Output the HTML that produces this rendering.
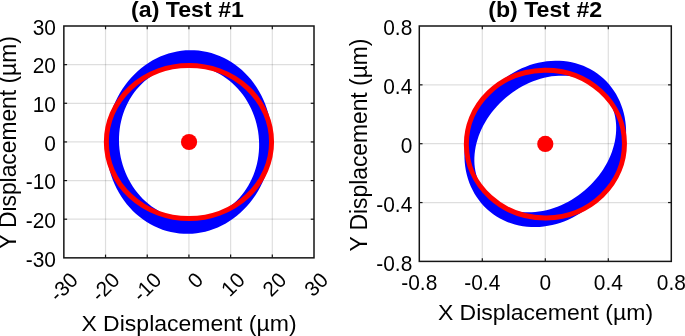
<!DOCTYPE html><html><head><meta charset="utf-8"><style>html,body{margin:0;padding:0;background:#fff}svg{display:block}text{font-family:"Liberation Sans",sans-serif;fill:#000}</style></head><body>
<svg width="685" height="336" viewBox="0 0 685 336">
<rect width="685" height="336" fill="#fff"/>
<line x1="105.54" y1="26.0" x2="105.54" y2="257.85" stroke="#000" stroke-opacity="0.13" stroke-width="1.2"/>
<line x1="147.23" y1="26.0" x2="147.23" y2="257.85" stroke="#000" stroke-opacity="0.13" stroke-width="1.2"/>
<line x1="188.93" y1="26.0" x2="188.93" y2="257.85" stroke="#000" stroke-opacity="0.13" stroke-width="1.2"/>
<line x1="230.62" y1="26.0" x2="230.62" y2="257.85" stroke="#000" stroke-opacity="0.13" stroke-width="1.2"/>
<line x1="272.31" y1="26.0" x2="272.31" y2="257.85" stroke="#000" stroke-opacity="0.13" stroke-width="1.2"/>
<line x1="63.85" y1="64.64" x2="314.0" y2="64.64" stroke="#000" stroke-opacity="0.13" stroke-width="1.2"/>
<line x1="63.85" y1="103.28" x2="314.0" y2="103.28" stroke="#000" stroke-opacity="0.13" stroke-width="1.2"/>
<line x1="63.85" y1="141.93" x2="314.0" y2="141.93" stroke="#000" stroke-opacity="0.13" stroke-width="1.2"/>
<line x1="63.85" y1="180.57" x2="314.0" y2="180.57" stroke="#000" stroke-opacity="0.13" stroke-width="1.2"/>
<line x1="63.85" y1="219.21" x2="314.0" y2="219.21" stroke="#000" stroke-opacity="0.13" stroke-width="1.2"/>
<line x1="482.30" y1="26.0" x2="482.30" y2="261.4" stroke="#000" stroke-opacity="0.13" stroke-width="1.2"/>
<line x1="545.30" y1="26.0" x2="545.30" y2="261.4" stroke="#000" stroke-opacity="0.13" stroke-width="1.2"/>
<line x1="608.30" y1="26.0" x2="608.30" y2="261.4" stroke="#000" stroke-opacity="0.13" stroke-width="1.2"/>
<line x1="419.3" y1="84.85" x2="671.3" y2="84.85" stroke="#000" stroke-opacity="0.13" stroke-width="1.2"/>
<line x1="419.3" y1="143.70" x2="671.3" y2="143.70" stroke="#000" stroke-opacity="0.13" stroke-width="1.2"/>
<line x1="419.3" y1="202.55" x2="671.3" y2="202.55" stroke="#000" stroke-opacity="0.13" stroke-width="1.2"/>
<path d="M271.30,150.67 L270.68,155.45 L269.84,160.18 L268.78,164.87 L267.50,169.49 L266.00,174.04 L264.29,178.50 L262.38,182.86 L260.27,187.11 L257.96,191.24 L255.46,195.23 L252.78,199.07 L249.92,202.76 L246.90,206.28 L243.72,209.62 L240.39,212.78 L236.91,215.75 L233.31,218.51 L229.58,221.07 L225.75,223.40 L221.81,225.52 L217.79,227.40 L213.68,229.05 L209.51,230.47 L205.28,231.64 L201.00,232.56 L196.70,233.24 L192.37,233.66 L188.03,233.84 L183.69,233.76 L179.37,233.43 L175.08,232.86 L170.83,232.03 L166.62,230.95 L162.47,229.64 L158.40,228.08 L154.42,226.28 L150.52,224.26 L146.73,222.01 L143.06,219.54 L139.52,216.85 L136.11,213.97 L132.84,210.88 L129.73,207.61 L126.78,204.15 L124.00,200.53 L121.40,196.75 L118.99,192.81 L116.76,188.74 L114.74,184.54 L112.92,180.22 L111.30,175.80 L109.90,171.28 L108.72,166.69 L107.76,162.02 L107.02,157.30 L106.50,152.54 L106.21,147.75 L106.15,142.95 L106.31,138.14 L106.70,133.35 L107.32,128.57 L108.16,123.84 L109.22,119.15 L110.50,114.53 L112.00,109.98 L113.71,105.52 L115.62,101.16 L117.73,96.91 L120.04,92.78 L122.54,88.79 L125.22,84.95 L128.08,81.26 L131.10,77.74 L134.28,74.40 L137.61,71.24 L141.09,68.27 L144.69,65.51 L148.42,62.95 L152.25,60.62 L156.19,58.50 L160.21,56.62 L164.32,54.97 L168.49,53.55 L172.72,52.38 L177.00,51.46 L181.30,50.78 L185.63,50.36 L189.97,50.18 L194.31,50.26 L198.63,50.59 L202.92,51.16 L207.17,51.99 L211.38,53.07 L215.53,54.38 L219.60,55.94 L223.58,57.74 L227.48,59.76 L231.27,62.01 L234.94,64.48 L238.48,67.17 L241.89,70.05 L245.16,73.14 L248.27,76.41 L251.22,79.87 L254.00,83.49 L256.60,87.27 L259.01,91.21 L261.24,95.28 L263.26,99.48 L265.08,103.80 L266.70,108.22 L268.10,112.74 L269.28,117.33 L270.24,122.00 L270.98,126.72 L271.50,131.48 L271.79,136.27 L271.85,141.07 L271.69,145.88Z M257.38,127.63 L256.48,123.68 L255.38,119.79 L254.11,115.96 L252.66,112.20 L251.03,108.52 L249.24,104.94 L247.28,101.46 L245.15,98.09 L242.88,94.84 L240.46,91.72 L237.90,88.75 L235.20,85.91 L232.38,83.24 L229.43,80.73 L226.38,78.38 L223.23,76.21 L219.98,74.22 L216.64,72.42 L213.23,70.81 L209.76,69.40 L206.23,68.19 L202.65,67.18 L199.03,66.37 L195.39,65.78 L191.73,65.39 L188.06,65.22 L184.39,65.26 L180.74,65.51 L177.11,65.97 L173.51,66.64 L169.96,67.51 L166.45,68.60 L163.01,69.88 L159.64,71.36 L156.35,73.04 L153.16,74.91 L150.05,76.96 L147.06,79.20 L144.18,81.60 L141.43,84.17 L138.80,86.91 L136.31,89.79 L133.97,92.82 L131.78,95.98 L129.74,99.27 L127.87,102.68 L126.17,106.20 L124.63,109.82 L123.28,113.53 L122.10,117.31 L121.11,121.17 L120.30,125.08 L119.69,129.04 L119.26,133.04 L119.02,137.06 L118.98,141.10 L119.13,145.14 L119.47,149.17 L120.00,153.19 L120.72,157.17 L121.62,161.12 L122.72,165.01 L123.99,168.84 L125.44,172.60 L127.07,176.28 L128.86,179.86 L130.82,183.34 L132.95,186.71 L135.22,189.96 L137.64,193.08 L140.20,196.05 L142.90,198.89 L145.72,201.56 L148.67,204.07 L151.72,206.42 L154.87,208.59 L158.12,210.58 L161.46,212.38 L164.87,213.99 L168.34,215.40 L171.87,216.61 L175.45,217.62 L179.07,218.43 L182.71,219.02 L186.37,219.41 L190.04,219.58 L193.71,219.54 L197.36,219.29 L200.99,218.83 L204.59,218.16 L208.14,217.29 L211.65,216.20 L215.09,214.92 L218.46,213.44 L221.75,211.76 L224.94,209.89 L228.05,207.84 L231.04,205.60 L233.92,203.20 L236.67,200.63 L239.30,197.89 L241.79,195.01 L244.13,191.98 L246.32,188.82 L248.36,185.53 L250.23,182.12 L251.93,178.60 L253.47,174.98 L254.82,171.27 L256.00,167.49 L256.99,163.63 L257.80,159.72 L258.41,155.76 L258.84,151.76 L259.08,147.74 L259.12,143.70 L258.97,139.66 L258.63,135.63 L258.10,131.61Z" fill="#0000ff" fill-rule="evenodd"/>
<ellipse cx="188.95" cy="142.0" rx="82.6" ry="76.5" transform="rotate(0 188.95 142.0)" fill="none" stroke="#ff0000" stroke-width="5.0"/>
<circle cx="189.05" cy="142.0" r="8.1" fill="#ff0000"/>
<path d="M604.34,191.87 L601.37,195.36 L598.25,198.71 L594.98,201.91 L591.58,204.95 L588.04,207.82 L584.40,210.52 L580.64,213.03 L576.79,215.36 L572.85,217.49 L568.83,219.41 L564.75,221.13 L560.62,222.64 L556.44,223.93 L552.24,225.01 L548.01,225.86 L543.78,226.48 L539.55,226.88 L535.34,227.06 L531.15,227.00 L527.00,226.72 L522.91,226.21 L518.87,225.47 L514.91,224.51 L511.03,223.33 L507.24,221.93 L503.56,220.32 L499.99,218.50 L496.55,216.47 L493.24,214.24 L490.07,211.82 L487.06,209.22 L484.20,206.44 L481.51,203.48 L479.00,200.36 L476.66,197.09 L474.52,193.67 L472.57,190.11 L470.82,186.43 L469.27,182.63 L467.93,178.73 L466.80,174.73 L465.89,170.64 L465.20,166.48 L464.72,162.26 L464.47,157.99 L464.44,153.68 L464.62,149.34 L465.03,144.99 L465.66,140.64 L466.51,136.29 L467.58,131.97 L468.85,127.67 L470.34,123.43 L472.03,119.23 L473.92,115.11 L476.01,111.06 L478.29,107.11 L480.75,103.25 L483.39,99.51 L486.20,95.89 L489.17,92.40 L492.29,89.05 L495.56,85.85 L498.96,82.81 L502.50,79.94 L506.14,77.24 L509.90,74.73 L513.75,72.40 L517.69,70.27 L521.71,68.35 L525.79,66.63 L529.92,65.12 L534.10,63.83 L538.30,62.75 L542.53,61.90 L546.76,61.28 L550.99,60.88 L555.20,60.70 L559.39,60.76 L563.54,61.04 L567.63,61.55 L571.67,62.29 L575.63,63.25 L579.51,64.43 L583.30,65.83 L586.98,67.44 L590.55,69.26 L593.99,71.29 L597.30,73.52 L600.47,75.94 L603.48,78.54 L606.34,81.32 L609.03,84.28 L611.54,87.40 L613.88,90.67 L616.02,94.09 L617.97,97.65 L619.72,101.33 L621.27,105.13 L622.61,109.03 L623.74,113.03 L624.65,117.12 L625.34,121.28 L625.82,125.50 L626.07,129.77 L626.10,134.08 L625.92,138.42 L625.51,142.77 L624.88,147.12 L624.03,151.47 L622.96,155.79 L621.69,160.09 L620.20,164.33 L618.51,168.53 L616.62,172.65 L614.53,176.70 L612.25,180.65 L609.79,184.51 L607.15,188.25Z M587.85,187.59 L590.76,184.77 L593.55,181.85 L596.20,178.81 L598.71,175.69 L601.08,172.47 L603.30,169.18 L605.35,165.82 L607.24,162.40 L608.96,158.93 L610.51,155.42 L611.88,151.88 L613.06,148.31 L614.06,144.73 L614.87,141.15 L615.49,137.58 L615.92,134.03 L616.15,130.50 L616.19,127.02 L616.04,123.57 L615.69,120.19 L615.14,116.86 L614.41,113.62 L613.49,110.45 L612.38,107.38 L611.08,104.41 L609.61,101.55 L607.96,98.80 L606.14,96.18 L604.15,93.69 L602.00,91.33 L599.69,89.12 L597.23,87.06 L594.64,85.16 L591.90,83.42 L589.04,81.84 L586.06,80.44 L582.97,79.21 L579.77,78.15 L576.48,77.28 L573.11,76.59 L569.65,76.08 L566.13,75.76 L562.56,75.63 L558.93,75.69 L555.27,75.93 L551.58,76.36 L547.88,76.97 L544.16,77.77 L540.45,78.75 L536.76,79.90 L533.08,81.24 L529.44,82.74 L525.85,84.42 L522.30,86.25 L518.82,88.25 L515.41,90.40 L512.09,92.69 L508.85,95.13 L505.72,97.70 L502.69,100.39 L499.78,103.21 L496.99,106.13 L494.34,109.17 L491.83,112.29 L489.46,115.51 L487.24,118.80 L485.19,122.16 L483.30,125.58 L481.58,129.05 L480.03,132.56 L478.66,136.10 L477.48,139.67 L476.48,143.25 L475.67,146.83 L475.05,150.40 L474.62,153.95 L474.39,157.48 L474.35,160.96 L474.50,164.41 L474.85,167.79 L475.40,171.12 L476.13,174.36 L477.05,177.53 L478.16,180.60 L479.46,183.57 L480.93,186.43 L482.58,189.18 L484.40,191.80 L486.39,194.29 L488.54,196.65 L490.85,198.86 L493.31,200.92 L495.90,202.82 L498.64,204.56 L501.50,206.14 L504.48,207.54 L507.57,208.77 L510.77,209.83 L514.06,210.70 L517.43,211.39 L520.89,211.90 L524.41,212.22 L527.98,212.35 L531.61,212.29 L535.27,212.05 L538.96,211.62 L542.66,211.01 L546.38,210.21 L550.09,209.23 L553.78,208.08 L557.46,206.74 L561.10,205.24 L564.69,203.56 L568.24,201.73 L571.72,199.73 L575.13,197.58 L578.45,195.29 L581.69,192.85 L584.82,190.28Z" fill="#0000ff" fill-rule="evenodd"/>
<ellipse cx="545.4" cy="144.05" rx="79.04" ry="73.89" transform="rotate(-0.85 545.4 144.05)" fill="none" stroke="#ff0000" stroke-width="5.0"/>
<circle cx="545.3" cy="143.9" r="8.1" fill="#ff0000"/>
<line x1="105.54" y1="26.0" x2="105.54" y2="29.25" stroke="#151515" stroke-width="1.2"/>
<line x1="105.54" y1="257.85" x2="105.54" y2="254.60000000000002" stroke="#151515" stroke-width="1.2"/>
<line x1="147.23" y1="26.0" x2="147.23" y2="29.25" stroke="#151515" stroke-width="1.2"/>
<line x1="147.23" y1="257.85" x2="147.23" y2="254.60000000000002" stroke="#151515" stroke-width="1.2"/>
<line x1="188.93" y1="26.0" x2="188.93" y2="29.25" stroke="#151515" stroke-width="1.2"/>
<line x1="188.93" y1="257.85" x2="188.93" y2="254.60000000000002" stroke="#151515" stroke-width="1.2"/>
<line x1="230.62" y1="26.0" x2="230.62" y2="29.25" stroke="#151515" stroke-width="1.2"/>
<line x1="230.62" y1="257.85" x2="230.62" y2="254.60000000000002" stroke="#151515" stroke-width="1.2"/>
<line x1="272.31" y1="26.0" x2="272.31" y2="29.25" stroke="#151515" stroke-width="1.2"/>
<line x1="272.31" y1="257.85" x2="272.31" y2="254.60000000000002" stroke="#151515" stroke-width="1.2"/>
<line x1="63.85" y1="64.64" x2="67.1" y2="64.64" stroke="#151515" stroke-width="1.2"/>
<line x1="314.0" y1="64.64" x2="310.75" y2="64.64" stroke="#151515" stroke-width="1.2"/>
<line x1="63.85" y1="103.28" x2="67.1" y2="103.28" stroke="#151515" stroke-width="1.2"/>
<line x1="314.0" y1="103.28" x2="310.75" y2="103.28" stroke="#151515" stroke-width="1.2"/>
<line x1="63.85" y1="141.93" x2="67.1" y2="141.93" stroke="#151515" stroke-width="1.2"/>
<line x1="314.0" y1="141.93" x2="310.75" y2="141.93" stroke="#151515" stroke-width="1.2"/>
<line x1="63.85" y1="180.57" x2="67.1" y2="180.57" stroke="#151515" stroke-width="1.2"/>
<line x1="314.0" y1="180.57" x2="310.75" y2="180.57" stroke="#151515" stroke-width="1.2"/>
<line x1="63.85" y1="219.21" x2="67.1" y2="219.21" stroke="#151515" stroke-width="1.2"/>
<line x1="314.0" y1="219.21" x2="310.75" y2="219.21" stroke="#151515" stroke-width="1.2"/>
<rect x="63.85" y="26.0" width="250.15" height="231.85000000000002" fill="none" stroke="#151515" stroke-width="1.5"/>
<line x1="482.30" y1="26.0" x2="482.30" y2="29.25" stroke="#151515" stroke-width="1.2"/>
<line x1="482.30" y1="261.4" x2="482.30" y2="258.15" stroke="#151515" stroke-width="1.2"/>
<line x1="545.30" y1="26.0" x2="545.30" y2="29.25" stroke="#151515" stroke-width="1.2"/>
<line x1="545.30" y1="261.4" x2="545.30" y2="258.15" stroke="#151515" stroke-width="1.2"/>
<line x1="608.30" y1="26.0" x2="608.30" y2="29.25" stroke="#151515" stroke-width="1.2"/>
<line x1="608.30" y1="261.4" x2="608.30" y2="258.15" stroke="#151515" stroke-width="1.2"/>
<line x1="419.3" y1="84.85" x2="422.55" y2="84.85" stroke="#151515" stroke-width="1.2"/>
<line x1="671.3" y1="84.85" x2="668.05" y2="84.85" stroke="#151515" stroke-width="1.2"/>
<line x1="419.3" y1="143.70" x2="422.55" y2="143.70" stroke="#151515" stroke-width="1.2"/>
<line x1="671.3" y1="143.70" x2="668.05" y2="143.70" stroke="#151515" stroke-width="1.2"/>
<line x1="419.3" y1="202.55" x2="422.55" y2="202.55" stroke="#151515" stroke-width="1.2"/>
<line x1="671.3" y1="202.55" x2="668.05" y2="202.55" stroke="#151515" stroke-width="1.2"/>
<rect x="419.3" y="26.0" width="251.99999999999994" height="235.39999999999998" fill="none" stroke="#151515" stroke-width="1.5"/>
<g opacity="0.999">
<text x="187.5" y="17.0" font-size="22.3" text-anchor="middle" font-weight="bold" textLength="112.8" lengthAdjust="spacingAndGlyphs">(a) Test #1</text>
<text x="545.2" y="17.0" font-size="22.3" text-anchor="middle" font-weight="bold" textLength="114.0" lengthAdjust="spacingAndGlyphs">(b) Test #2</text>
<text x="55.9" y="34.8" font-size="21.4" text-anchor="end" font-weight="normal" transform="translate(55.9 34.8) scale(0.977 1) translate(-55.9 -34.8)">30</text>
<text x="55.9" y="73.44166666666668" font-size="21.4" text-anchor="end" font-weight="normal" transform="translate(55.9 73.44166666666668) scale(0.977 1) translate(-55.9 -73.44166666666668)">20</text>
<text x="55.9" y="112.08333333333334" font-size="21.4" text-anchor="end" font-weight="normal" transform="translate(55.9 112.08333333333334) scale(0.977 1) translate(-55.9 -112.08333333333334)">10</text>
<text x="55.9" y="150.72500000000002" font-size="21.4" text-anchor="end" font-weight="normal" transform="translate(55.9 150.72500000000002) scale(0.977 1) translate(-55.9 -150.72500000000002)">0</text>
<text x="55.9" y="189.3666666666667" font-size="21.4" text-anchor="end" font-weight="normal" transform="translate(55.9 189.3666666666667) scale(0.977 1) translate(-55.9 -189.3666666666667)">-10</text>
<text x="55.9" y="228.00833333333335" font-size="21.4" text-anchor="end" font-weight="normal" transform="translate(55.9 228.00833333333335) scale(0.977 1) translate(-55.9 -228.00833333333335)">-20</text>
<text x="55.9" y="266.65000000000003" font-size="21.4" text-anchor="end" font-weight="normal" transform="translate(55.9 266.65000000000003) scale(0.977 1) translate(-55.9 -266.65000000000003)">-30</text>
<text x="79.35" y="281.35" font-size="20.9" text-anchor="end" font-weight="normal" transform="rotate(-45 79.35 281.35)">-30</text>
<text x="121.04166666666667" y="281.35" font-size="20.9" text-anchor="end" font-weight="normal" transform="rotate(-45 121.04166666666667 281.35)">-20</text>
<text x="162.73333333333335" y="281.35" font-size="20.9" text-anchor="end" font-weight="normal" transform="rotate(-45 162.73333333333335 281.35)">-10</text>
<text x="204.425" y="281.35" font-size="20.9" text-anchor="end" font-weight="normal" transform="rotate(-45 204.425 281.35)">0</text>
<text x="246.11666666666667" y="281.35" font-size="20.9" text-anchor="end" font-weight="normal" transform="rotate(-45 246.11666666666667 281.35)">10</text>
<text x="287.80833333333334" y="281.35" font-size="20.9" text-anchor="end" font-weight="normal" transform="rotate(-45 287.80833333333334 281.35)">20</text>
<text x="329.5" y="281.35" font-size="20.9" text-anchor="end" font-weight="normal" transform="rotate(-45 329.5 281.35)">30</text>
<text x="412.3" y="35.2" font-size="21.4" text-anchor="end" font-weight="normal" transform="translate(412.3 35.2) scale(0.977 1) translate(-412.3 -35.2)">0.8</text>
<text x="412.3" y="94.05" font-size="21.4" text-anchor="end" font-weight="normal" transform="translate(412.3 94.05) scale(0.977 1) translate(-412.3 -94.05)">0.4</text>
<text x="412.3" y="152.89999999999998" font-size="21.4" text-anchor="end" font-weight="normal" transform="translate(412.3 152.89999999999998) scale(0.977 1) translate(-412.3 -152.89999999999998)">0</text>
<text x="412.3" y="211.74999999999997" font-size="21.4" text-anchor="end" font-weight="normal" transform="translate(412.3 211.74999999999997) scale(0.977 1) translate(-412.3 -211.74999999999997)">-0.4</text>
<text x="412.3" y="270.59999999999997" font-size="21.4" text-anchor="end" font-weight="normal" transform="translate(412.3 270.59999999999997) scale(0.977 1) translate(-412.3 -270.59999999999997)">-0.8</text>
<text x="419.3" y="290.0" font-size="21.4" text-anchor="middle" font-weight="normal" transform="translate(419.3 290.0) scale(0.977 1) translate(-419.3 -290.0)">-0.8</text>
<text x="482.3" y="290.0" font-size="21.4" text-anchor="middle" font-weight="normal" transform="translate(482.3 290.0) scale(0.977 1) translate(-482.3 -290.0)">-0.4</text>
<text x="545.3" y="290.0" font-size="21.4" text-anchor="middle" font-weight="normal" transform="translate(545.3 290.0) scale(0.977 1) translate(-545.3 -290.0)">0</text>
<text x="608.3" y="290.0" font-size="21.4" text-anchor="middle" font-weight="normal" transform="translate(608.3 290.0) scale(0.977 1) translate(-608.3 -290.0)">0.4</text>
<text x="671.3" y="290.0" font-size="21.4" text-anchor="middle" font-weight="normal" transform="translate(671.3 290.0) scale(0.977 1) translate(-671.3 -290.0)">0.8</text>
<text x="189.0" y="330.8" font-size="22.3" text-anchor="middle" font-weight="normal" textLength="215.2" lengthAdjust="spacingAndGlyphs">X Displacement (µm)</text>
<text x="545.5" y="320.3" font-size="22.3" text-anchor="middle" font-weight="normal" textLength="215.2" lengthAdjust="spacingAndGlyphs">X Displacement (µm)</text>
<text x="16.5" y="142.7" font-size="23.0" text-anchor="middle" font-weight="normal" transform="rotate(-90 16.5 142.7)" textLength="213" lengthAdjust="spacingAndGlyphs">Y Displacement (µm)</text>
<text x="367.2" y="145.1" font-size="23.0" text-anchor="middle" font-weight="normal" transform="rotate(-90 367.2 145.1)" textLength="213" lengthAdjust="spacingAndGlyphs">Y Displacement (µm)</text>
</g>
</svg></body></html>
